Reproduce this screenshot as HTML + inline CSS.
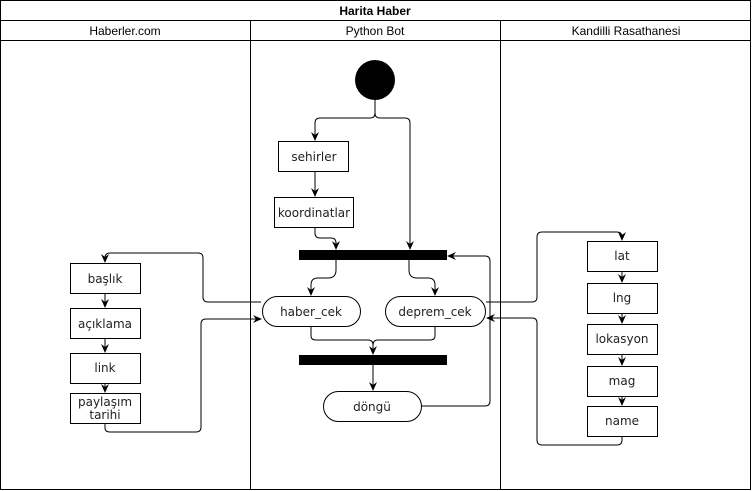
<!DOCTYPE html>
<html><head><meta charset="utf-8"><style>
html,body{margin:0;padding:0;background:#fff}
svg{display:block}
text{font-family:"DejaVu Sans","Liberation Sans",sans-serif;font-size:12px;fill:#222}
.h{font-family:"Liberation Sans",sans-serif;font-weight:bold;font-size:12px;fill:#000}
.l{fill:none;stroke:#000;stroke-width:1}
.b{fill:#fff;stroke:#000;stroke-width:1}
</style></head><body>
<svg width="752" height="491" viewBox="0 0 752 491" xmlns="http://www.w3.org/2000/svg">
<defs><marker id="a" markerWidth="10" markerHeight="10" refX="8" refY="5" orient="auto" markerUnits="userSpaceOnUse"><path d="M0,1 L9,5 L0,9 L3,5 Z" fill="#000"/></marker></defs>
<rect x="0.5" y="0.5" width="750" height="489" class="l"/>
<line x1="0" y1="20.5" x2="751" y2="20.5" class="l"/>
<line x1="0" y1="40.5" x2="751" y2="40.5" class="l"/>
<line x1="250.5" y1="20" x2="250.5" y2="490" class="l"/>
<line x1="500.5" y1="20" x2="500.5" y2="490" class="l"/>
<text x="375" y="15" text-anchor="middle" class="h">Harita Haber</text>
<text x="125" y="35" text-anchor="middle" class="h" style="font-weight:normal">Haberler.com</text>
<text x="375" y="35" text-anchor="middle" class="h" style="font-weight:normal">Python Bot</text>
<text x="626" y="35" text-anchor="middle" class="h" style="font-weight:normal">Kandilli Rasathanesi</text>

<circle cx="375" cy="80" r="20" fill="#000"/>
<path class="l" d="M375,100 V113 Q375,118 370,118 H320 Q315,118 315,123 V140" marker-end="url(#a)"/>
<path class="l" d="M375,113 Q375,118 380,118 H405 Q410,118 410,123 V249" marker-end="url(#a)"/>
<rect x="278.5" y="141.5" width="70" height="30" class="b"/><text x="314" y="161" text-anchor="middle">sehirler</text>
<path class="l" d="M315,172 V196" marker-end="url(#a)"/>
<rect x="274.5" y="197.5" width="79" height="30" class="b"/><text x="314" y="217" text-anchor="middle">koordinatlar</text>
<path class="l" d="M315,228 V233 Q315,238 320,238 H331 Q336,238 336,243 V249" marker-end="url(#a)"/>
<rect x="299" y="250" width="148" height="10" fill="#000"/>
<path class="l" d="M336,260 V270 Q336,278 328,278 H318 Q311,278 311,285 V295" marker-end="url(#a)"/>
<path class="l" d="M409,260 V270 Q409,278 417,278 H428 Q435,278 435,285 V295" marker-end="url(#a)"/>
<rect x="262.5" y="296.5" width="98" height="30" rx="15" class="b"/><text x="311" y="316" text-anchor="middle">haber_cek</text>
<rect x="385.5" y="296.5" width="100" height="30" rx="15" class="b"/><text x="435" y="316" text-anchor="middle">deprem_cek</text>
<path class="l" d="M311,327 V336 Q311,340 316,340 H368 Q373,340 373,345 V354" marker-end="url(#a)"/>
<path class="l" d="M435,327 V336 Q435,340 430,340 H378 Q373,340 373,345"/>
<rect x="299" y="355" width="148" height="10" fill="#000"/>
<path class="l" d="M373,365 V390" marker-end="url(#a)"/>
<rect x="323.5" y="391.5" width="98" height="30" rx="15" class="b"/><text x="372" y="411" text-anchor="middle">döngü</text>
<path class="l" d="M421,406 H485 Q490,406 490,401 V261 Q490,256 485,256 H448" marker-end="url(#a)"/>

<path class="l" d="M261,302 H208 Q203,302 203,297 V258 Q203,253 198,253 H110 Q105,253 105,258 V262" marker-end="url(#a)"/>
<rect x="70.5" y="263.5" width="70" height="30" class="b"/><text x="105" y="283" text-anchor="middle">başlık</text>
<path class="l" d="M105,294 V307" marker-end="url(#a)"/>
<rect x="70.5" y="308.5" width="70" height="30" class="b"/><text x="105" y="328" text-anchor="middle">açıklama</text>
<path class="l" d="M105,339 V352" marker-end="url(#a)"/>
<rect x="70.5" y="353.5" width="70" height="30" class="b"/><text x="105" y="372" text-anchor="middle">link</text>
<path class="l" d="M105,384 V392" marker-end="url(#a)"/>
<rect x="70.5" y="393.5" width="70" height="30" class="b"/><text x="105" y="406" text-anchor="middle">paylaşım</text><text x="105" y="419" text-anchor="middle">tarihi</text>
<path class="l" d="M105,424 V428 Q105,432 110,432 H196 Q201,432 201,427 V324 Q201,319 206,319 H261" marker-end="url(#a)"/>

<path class="l" d="M486,302 H532 Q537,302 537,297 V237 Q537,232 542,232 H617 Q622,232 622,237 V240" marker-end="url(#a)"/>
<rect x="587.5" y="241.5" width="70" height="30" class="b"/><text x="622" y="260" text-anchor="middle">lat</text>
<path class="l" d="M622,272 V282" marker-end="url(#a)"/>
<rect x="587.5" y="283.5" width="70" height="30" class="b"/><text x="622" y="302" text-anchor="middle">lng</text>
<path class="l" d="M622,314 V323" marker-end="url(#a)"/>
<rect x="587.5" y="324.5" width="70" height="30" class="b"/><text x="622" y="343" text-anchor="middle">lokasyon</text>
<path class="l" d="M622,355 V365" marker-end="url(#a)"/>
<rect x="587.5" y="366.5" width="70" height="30" class="b"/><text x="622" y="385" text-anchor="middle">mag</text>
<path class="l" d="M622,397 V405" marker-end="url(#a)"/>
<rect x="587.5" y="406.5" width="70" height="30" class="b"/><text x="622" y="425" text-anchor="middle">name</text>
<path class="l" d="M622,437 V440 Q622,445 617,445 H542 Q537,445 537,440 V323 Q537,318 532,318 H487" marker-end="url(#a)"/>
</svg>
</body></html>
